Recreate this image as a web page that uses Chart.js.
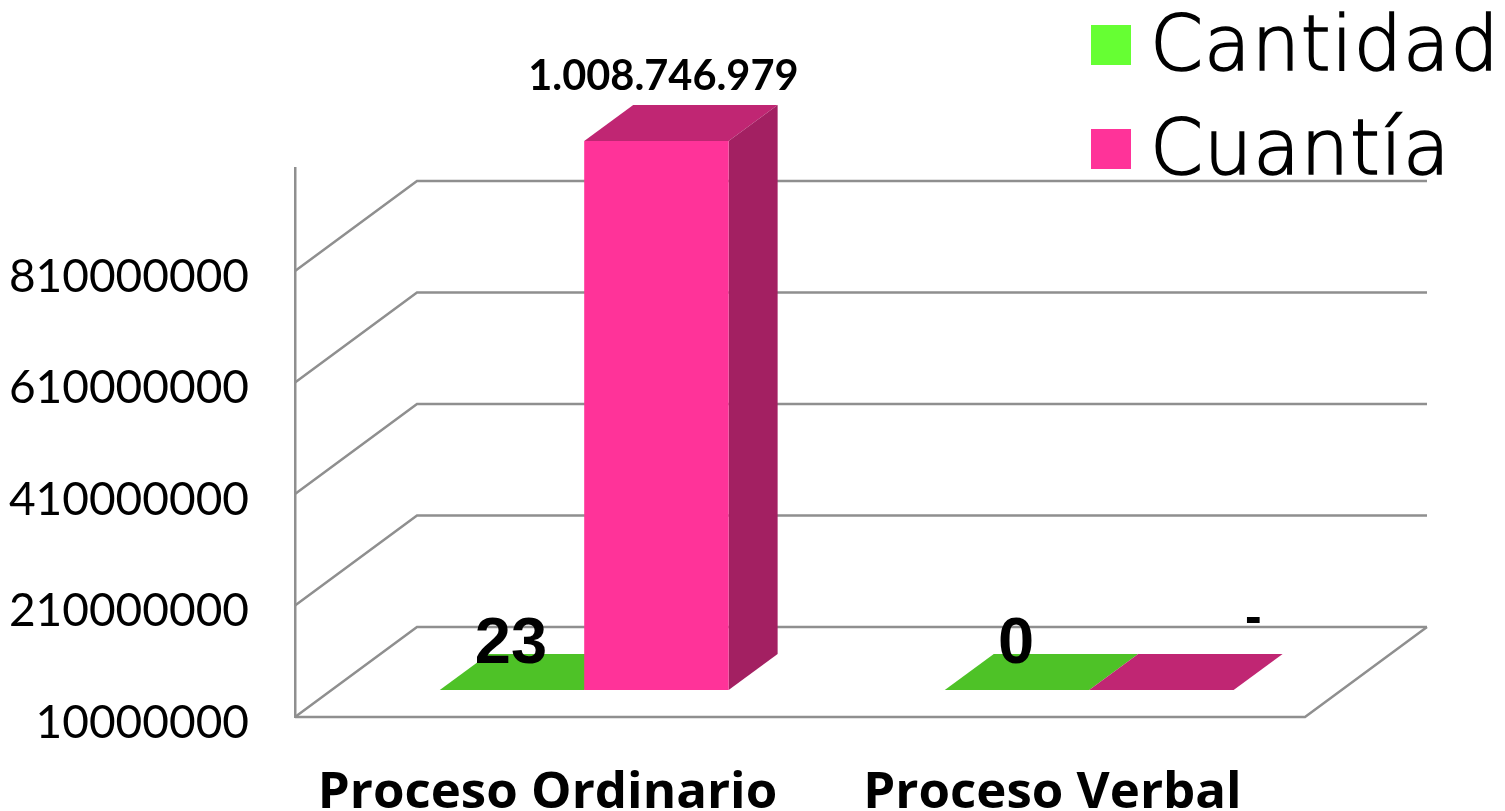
<!DOCTYPE html>
<html><head><meta charset="utf-8">
<style>html,body{margin:0;padding:0;background:#fff}canvas{display:block}</style>
<script src="https://cdn.jsdelivr.net/npm/chart.js@4"></script></head>
<body><canvas id="c" width="1505" height="811"></canvas>
<script>
const categories = ['Proceso Ordinario', 'Proceso Verbal'];
const cantidad = [23, 0];
const cuantia = [1008746979, 0];
const cantidadLabels = ['23', '0'];
const cuantiaLabels = ['1.008.746.979', '-'];
const tickValues = [10000000, 210000000, 410000000, 610000000, 810000000];
const axisMin = 10000000, axisMax = 994700000, barFloor = 24000000;

const GREEN = '#66FF33', GREEN_TOP = '#4EC227', PINK = '#FF3399', PINK_TOP = '#C02673', PINK_SIDE = '#A32062', GRID = '#8F8F8F';
const BAR_SHIFT = {x: 36.7, y: -19.2};      // bars stand inside the floor
const BAR_DEPTH = {x: 49, y: -36};
const WALL_DEPTH = {x: 122, y: -90};
const SANS = 'Lato, sans-serif';

const tops = [GREEN_TOP, PINK_TOP];
function poly(ctx, pts, fill) {
  ctx.beginPath(); pts.forEach((p, i) => i ? ctx.lineTo(p[0], p[1]) : ctx.moveTo(p[0], p[1]));
  ctx.closePath(); ctx.fillStyle = fill; ctx.fill();
}
const bar3d = {
  id: 'bar3d',
  beforeDraw(chart) {
    // nudge the y tick labels onto the glyph centre of the gridlines
    if (!chart.$nudged) {
      chart.scales.y.getLabelItems().forEach(it => { it.options.translation[1] += 6; });
      chart.$nudged = true;
    }
  },
  beforeDatasetsDraw(chart) {
    const {ctx, scales: {x, y}} = chart, d = WALL_DEPTH;
    ctx.save();
    ctx.strokeStyle = GRID; ctx.lineWidth = 2.5; ctx.lineJoin = 'miter';
    tickValues.forEach(v => {
      const py = y.getPixelForValue(v);
      ctx.beginPath();
      ctx.moveTo(x.left, py);
      ctx.lineTo(x.left + d.x, py + d.y);
      ctx.lineTo(x.right + d.x, py + d.y);
      ctx.stroke();
    });
    const fy = y.getPixelForValue(axisMin);
    ctx.beginPath();
    ctx.moveTo(x.left, fy); ctx.lineTo(x.right, fy); ctx.lineTo(x.right + d.x, fy + d.y);
    ctx.stroke();
    ctx.restore();
    ctx.save();
    ctx.translate(BAR_SHIFT.x, BAR_SHIFT.y);
    const b = BAR_DEPTH;
    [0, 1].forEach(index => {
      chart.getDatasetMeta(index).data.forEach(el => {
        const {x: ex, y: ey, width, base} = el.getProps(['x', 'y', 'width', 'base'], true);
        const l = ex - width / 2, r = ex + width / 2;
        poly(ctx, [[l, ey], [r, ey], [r + b.x, ey + b.y], [l + b.x, ey + b.y]], tops[index]);
        if (base - ey > 1) poly(ctx, [[r, ey], [r + b.x, ey + b.y], [r + b.x, base + b.y], [r, base]], PINK_SIDE);
      });
    });
  },
  afterDatasetsDraw(chart) {
    const ctx = chart.ctx;
    ctx.restore();
    ctx.save();
    ctx.fillStyle = '#000'; ctx.textAlign = 'center'; ctx.textBaseline = 'middle';
    const m0 = chart.getDatasetMeta(0).data, m1 = chart.getDatasetMeta(1).data;
    ctx.font = 'bold 65px "Liberation Sans"';
    m0.forEach((el, i) => {
      ctx.fillText(cantidadLabels[i], el.x + BAR_SHIFT.x - 1, el.y + BAR_SHIFT.y - 45);
    });
    ctx.font = 'bold 41.5px ' + SANS;
    ctx.fillText(cuantiaLabels[0], m1[0].x + BAR_SHIFT.x + 7, m1[0].y + BAR_SHIFT.y - 64);
    ctx.font = 'bold 50px "Liberation Sans"';
    ctx.fillText(cuantiaLabels[1], m1[1].x + BAR_SHIFT.x + 92, m1[1].y + BAR_SHIFT.y - 71);
    // legend
    ctx.textAlign = 'left'; ctx.textBaseline = 'alphabetic';
    ctx.font = '200 76px "DejaVu Sans"';
    chart.data.datasets.forEach((ds, i) => {
      const top = 25 + i * 104;
      ctx.fillStyle = ds.backgroundColor;
      ctx.fillRect(1091, top, 40, 40);
      ctx.fillStyle = '#000'; ctx.strokeStyle = '#000'; ctx.lineWidth = 1.6;
      ctx.letterSpacing = '1px';
      ctx.fillText(ds.label, 1150, top + 45);
      ctx.strokeText(ds.label, 1150, top + 45);
      ctx.letterSpacing = '0px';
    });
    ctx.restore();
  }
};

new Chart(document.getElementById('c'), {
  type: 'bar',
  data: {
    labels: categories,
    datasets: [
      {label: 'Cantidad', data: cantidad.map(v => Math.max(v, barFloor)), backgroundColor: GREEN, base: barFloor, clip: false, borderWidth: 0},
      {label: 'Cuantía', data: cuantia.map(v => Math.max(v, barFloor)), backgroundColor: PINK, base: barFloor, clip: false, borderWidth: 0}
    ]
  },
  options: {
    responsive: false, animation: false,
    layout: {padding: {top: 168, right: 200, left: 0, bottom: 0}},
    plugins: {legend: {display: false}, tooltip: {enabled: false}},
    datasets: {bar: {categoryPercentage: 0.572, barPercentage: 1}},
    scales: {
      x: {
        grid: {display: false}, border: {display: false},
        afterFit(s) { s.height = 94; },
        ticks: {color: '#000', padding: 38, maxRotation: 0, autoSkip: false, font: {family: 'Open Sans', weight: 'bold', size: 51}}
      },
      y: {
        min: axisMin, max: axisMax,
        afterBuildTicks(s) { s.ticks = tickValues.map(value => ({value})); },
        afterFit(s) { s.width = 295; },
        grid: {drawOnChartArea: false, drawTicks: false},
        border: {display: true, color: GRID, width: 2.5},
        ticks: {color: '#000', padding: 46, callback: v => String(v), font: {family: 'Lato', size: 46}}
      }
    }
  },
  plugins: [bar3d]
});
</script></body></html>
